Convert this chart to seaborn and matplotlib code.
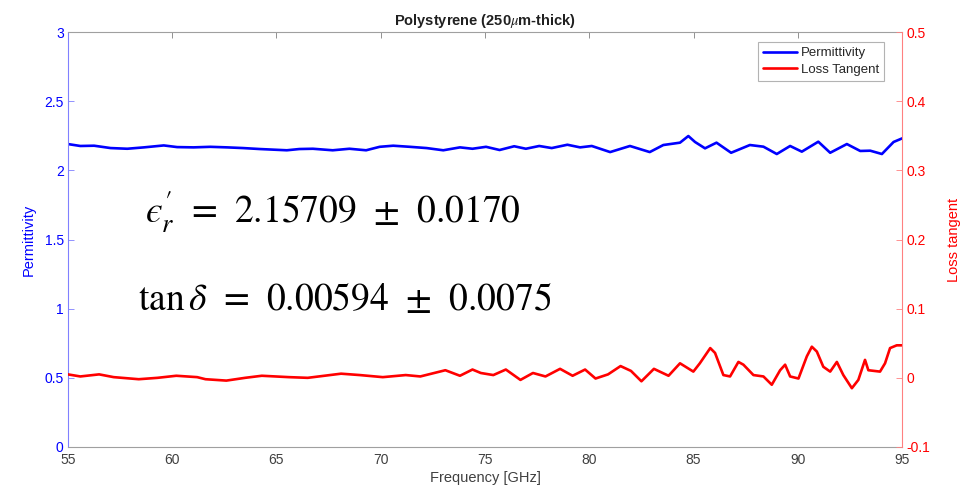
import numpy as np
import pandas as pd
import matplotlib
matplotlib.use("Agg")
import matplotlib.pyplot as plt
import seaborn as sns

# Permittivity
eps_freq = [55.0, 55.6, 56.26, 57.05, 57.85, 58.65, 59.6, 60.24, 61.03, 61.83,
            62.63, 63.4, 64.2, 65.5, 66.1, 66.75, 67.7, 68.5, 69.3, 69.95,
            70.6, 71.4, 72.2, 73.0, 73.8, 74.4, 75.05, 75.7, 76.4, 76.96,
            77.6, 78.2, 78.95, 79.56, 80.12, 81.0, 81.95, 82.9, 83.55, 84.35,
            84.75, 85.07, 85.55, 86.1, 86.8, 87.7, 88.35, 88.99, 89.63, 90.19,
            90.98, 91.55, 92.35, 92.99, 93.47, 94.03, 94.59, 95.0]
eps_val = [2.19, 2.176, 2.178, 2.161, 2.156, 2.166, 2.18, 2.168, 2.166, 2.17,
           2.166, 2.161, 2.154, 2.145, 2.154, 2.156, 2.145, 2.156, 2.145, 2.17,
           2.178, 2.17, 2.161, 2.145, 2.166, 2.156, 2.17, 2.147, 2.174, 2.156,
           2.176, 2.161, 2.185, 2.166, 2.176, 2.132, 2.176, 2.132, 2.183, 2.2,
           2.248, 2.205, 2.159, 2.2, 2.127, 2.183, 2.171, 2.118, 2.176, 2.135,
           2.207, 2.127, 2.19, 2.14, 2.142, 2.118, 2.205, 2.231]

# Loss tangent
tan_freq = [55.0, 55.6, 56.5, 57.2, 58.4, 59.3, 60.2, 61.2, 61.6, 62.6,
            63.5, 64.3, 65.6, 66.5, 68.1, 69.0, 70.1, 71.2, 71.9, 73.1,
            73.8, 74.4, 74.8, 75.4, 76.0, 76.7, 77.3, 77.9, 78.6, 79.2,
            79.8, 80.3, 80.9, 81.5, 82.0, 82.5, 83.1, 83.8, 84.35, 84.99,
            85.3, 85.8, 86.03, 86.43, 86.75, 87.15, 87.39, 87.87, 88.35, 88.75,
            89.15, 89.39, 89.63, 90.03, 90.43, 90.67, 90.91, 91.22, 91.55, 91.87,
            92.18, 92.59, 92.9, 93.22, 93.38, 93.94, 94.18, 94.42, 94.74, 95.0]
tan_val = [0.005, 0.002, 0.005, 0.001, -0.002, 0.0, 0.003, 0.001, -0.002, -0.004,
           0.0, 0.003, 0.001, 0.0, 0.006, 0.004, 0.001, 0.004, 0.002, 0.011,
           0.003, 0.012, 0.007, 0.004, 0.012, -0.003, 0.007, 0.002, 0.013, 0.003,
           0.012, -0.001, 0.005, 0.017, 0.010, -0.005, 0.013, 0.003, 0.021, 0.009,
           0.021, 0.043, 0.036, 0.004, 0.002, 0.023, 0.019, 0.004, 0.002, -0.010,
           0.011, 0.019, 0.002, -0.001, 0.031, 0.045, 0.038, 0.016, 0.009, 0.023,
           0.004, -0.015, -0.003, 0.026, 0.011, 0.009, 0.021, 0.043, 0.047, 0.047]

eps_df = pd.DataFrame({"Frequency": eps_freq, "Permittivity": eps_val})
tan_df = pd.DataFrame({"Frequency": tan_freq, "Loss tangent": tan_val})

sns.set_style("white")
plt.rcParams["font.family"] = ["Liberation Sans", "DejaVu Sans"]
plt.rcParams["mathtext.fontset"] = "stix"

fig, ax = plt.subplots(figsize=(9.69, 5.0), dpi=100)
fig.subplots_adjust(left=0.070, right=0.931, top=0.936, bottom=0.106)
ax2 = ax.twinx()

sns.lineplot(data=eps_df, x="Frequency", y="Permittivity", ax=ax,
             color="#0000ff", linewidth=1.9, legend=False)
sns.lineplot(data=tan_df, x="Frequency", y="Loss tangent", ax=ax2,
             color="#ff0000", linewidth=1.9, legend=False)

ax.set_xlim(55, 95)
ax.set_ylim(0, 3)
ax2.set_ylim(-0.1, 0.5)
ax.set_xticks(range(55, 96, 5))
ax.set_yticks([0, 0.5, 1, 1.5, 2, 2.5, 3])
ax.set_yticklabels(["0", "0.5", "1", "1.5", "2", "2.5", "3"])
ax2.set_yticks([-0.1, 0, 0.1, 0.2, 0.3, 0.4, 0.5])
ax2.set_yticklabels(["-0.1", "0", "0.1", "0.2", "0.3", "0.4", "0.5"])

# spines in the MATLAB yyaxis look
for s in ["top", "bottom"]:
    ax.spines[s].set_color("#a0a0a0")
    ax.spines[s].set_linewidth(0.8)
ax.spines["left"].set_color("#8080ff")
ax.spines["left"].set_linewidth(0.8)
ax.spines["right"].set_visible(False)
for s in ["left", "top", "bottom"]:
    ax2.spines[s].set_visible(False)
ax2.spines["right"].set_color("#ff8080")
ax2.spines["right"].set_linewidth(0.8)

ax.tick_params(axis="x", direction="in", length=4, width=0.6, color="#808080",
               labelcolor="#404040", labelsize=10, top=True, pad=4)
ax.tick_params(axis="y", direction="in", length=4, width=0.6, color="#8080ff",
               labelcolor="#0000ff", labelsize=10, pad=3)
ax2.tick_params(axis="y", direction="in", length=4, width=0.6, color="#ff8080",
                labelcolor="#ff0000", labelsize=10, pad=3)

ax.set_xlabel("Frequency [GHz]", fontsize=10.5, color="#404040", labelpad=3)
ax.set_ylabel("Permittivity", fontsize=10.5, color="#0000ff", labelpad=6)
ax2.set_ylabel("Loss tangent", fontsize=10.5, color="#ff0000", labelpad=12)
ax.set_title("Polystyrene (250$\\mu$m-thick)", fontsize=10.5, fontweight="bold",
             color="#202020", pad=5)

ax.text(58.7, 1.70, "$\u03f5_r^{\\prime}\\;\\,=\\;\\,2.15709\\;\\,\\pm\\;\\,0.0170$",
        fontsize=27, va="center", ha="left", color="black")
ax.text(58.35, 1.06, r"$\mathrm{tan}\,\delta\;\,=\;\,0.00594\;\,\pm\;\,0.0075$",
        fontsize=27, va="center", ha="left", color="black")

handles = [ax.get_lines()[0], ax2.get_lines()[0]]
leg = ax2.legend(handles, ["Permittivity", "Loss Tangent"], loc="upper right",
                 fontsize=9.5, frameon=True, fancybox=False, borderpad=0.35,
                 handlelength=2.6, handletextpad=0.3, labelspacing=0.35,
                 borderaxespad=0.0, bbox_to_anchor=(0.978, 0.975))
leg.get_frame().set_edgecolor("#a0a0a0")
leg.get_frame().set_linewidth(0.8)

fig.savefig("out.png", dpi=100)
